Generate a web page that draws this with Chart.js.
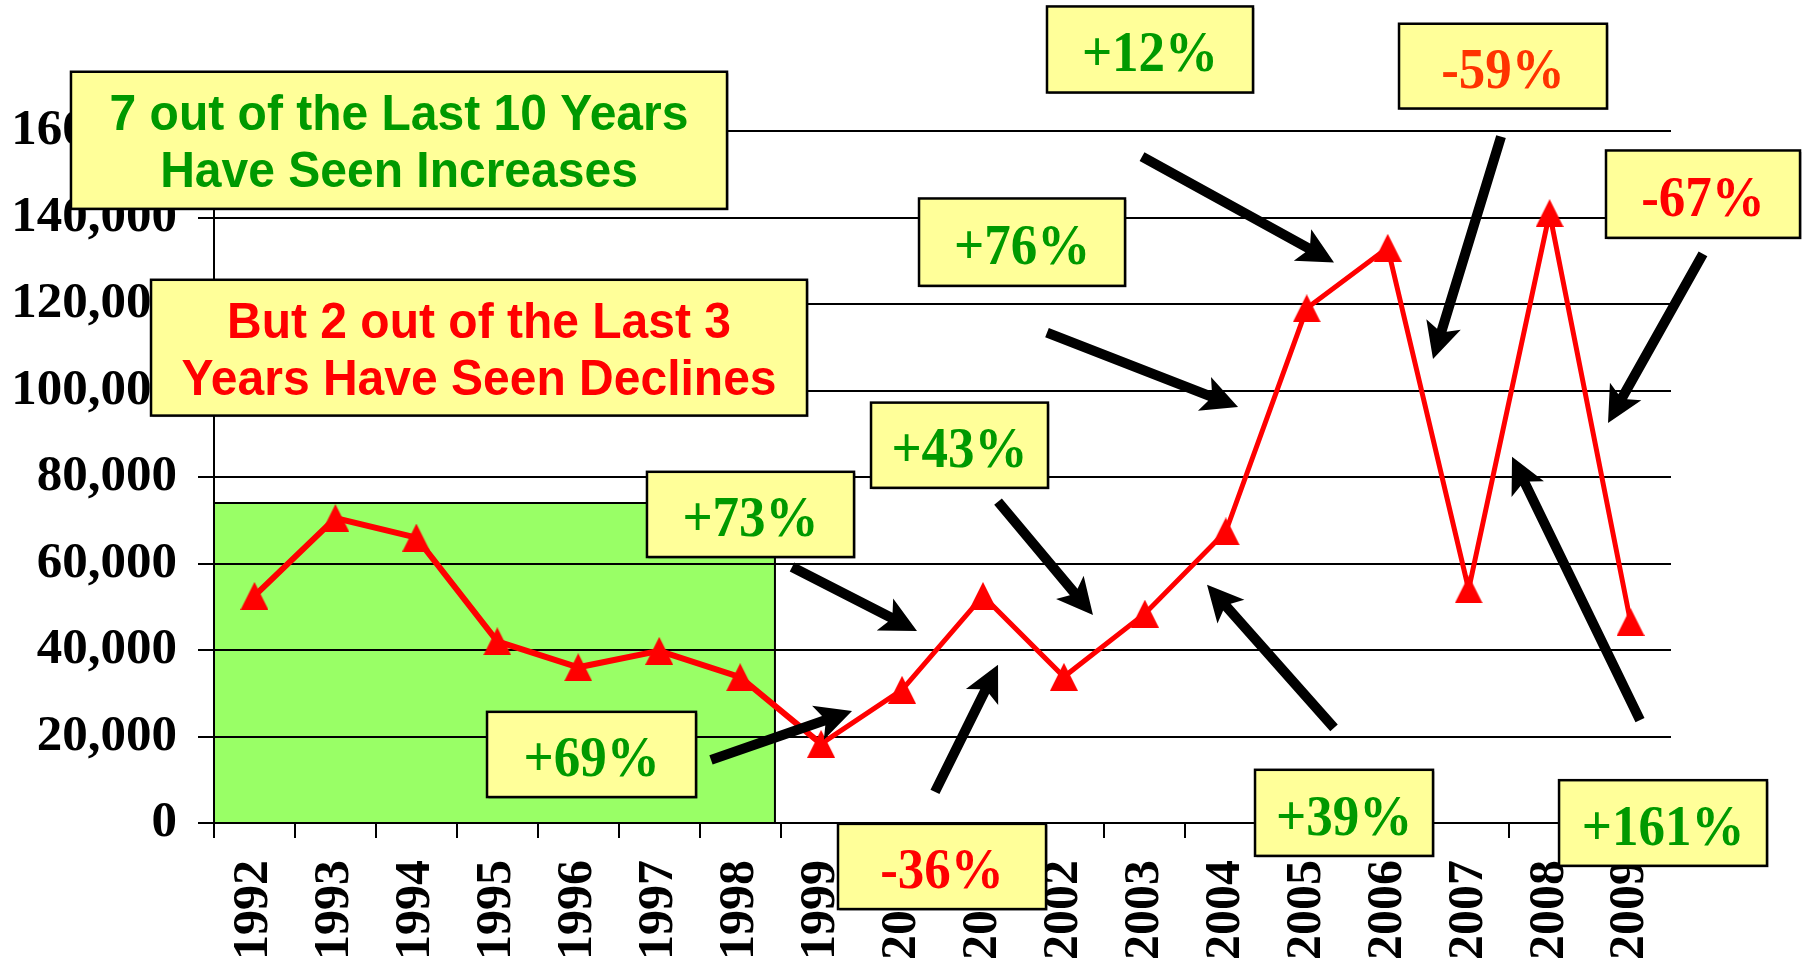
<!DOCTYPE html>
<html>
<head>
<meta charset="utf-8">
<script src="https://cdn.jsdelivr.net/npm/chart.js@4.4.1/dist/chart.umd.min.js"></script>
<style>
html, body { margin:0; padding:0; background:#fff; }
#wrap { width:1805px; height:969px; }
</style>
</head>
<body>
<div id="wrap"><canvas id="chart"></canvas></div>
<script>
//=========================================
// Data
//=========================================
const years = ['1992','1993','1994','1995','1996','1997','1998','1999','2000',
               '2001','2002','2003','2004','2005','2006','2007','2008','2009'];

const values = [52500, 70500, 66000, 42000, 36000, 39800, 33700, 18300, 30800,
                52500, 33800, 48400, 67400, 119000, 133000, 54000, 141000, 46500];

const yMin = 0;
const yMax = 160000;
const yStep = 20000;

const changeLabels = ['+69%', '+73%', '-36%', '+43%', '+39%', '+76%', '+12%', '-59%', '+161%', '-67%'];

const upText = ['7 out of the Last 10 Years', 'Have Seen Increases'];
const downText = ['But 2 out of the Last 3', 'Years Have Seen Declines'];

//=========================================
// Annotation layout (x in category units, y in axis units)
//=========================================
const GREEN = '#009900';
const RED = '#FF0000';
const ORANGE = '#FF3300';

const shade = { x0: -0.5, x1: 6.43, y0: 0, y1: 74000 };

// box: x1, x2, yTop, yBottom ; arrow: tail -> head
const notes = [
    { box: [2.873, 5.455, 25700, 6000],     color: GREEN,  arrow: [5.64, 14600, 7.382, 25900] },
    { box: [4.849, 7.407, 81200, 61500],    color: GREEN,  arrow: [6.641, 59200, 8.185, 44400] },
    { box: [7.209, 9.779, -200, -19900],    color: RED,    arrow: [8.407, 7200, 9.186, 36600] },
    { box: [7.617, 9.803, 97200, 77500],    color: GREEN,  arrow: [9.186, 74300, 10.359, 48100] },
    { box: [12.361, 14.56, 12300, -7600],   color: GREEN,  arrow: [13.337, 22000, 11.768, 55100] },
    { box: [8.21, 10.755, 144400, 124200],  color: GREEN,  arrow: [9.791, 113400, 12.151, 96200] },
    { box: [9.791, 12.336, 188800, 168900], color: GREEN,  arrow: [10.965, 154100, 13.337, 129600] },
    { box: [14.14, 16.709, 184800, 165200], color: ORANGE, arrow: [15.4, 158700, 14.56, 107300] },
    { box: [16.117, 18.686, 9900, -9900],   color: GREEN,  arrow: [17.117, 23800, 15.536, 84700] },
    { box: [16.697, 19.094, 155500, 135300],color: RED,    arrow: [17.895, 131600, 16.722, 92500] }
];

const bigNotes = [
    { box: [-2.267, 5.838, 173700, 142000], color: GREEN, lines: upText },
    { box: [-1.278, 6.826, 125600, 94200],  color: RED,   lines: downText }
];

const SERIF = "'Liberation Serif', 'Times New Roman', serif";
const SANS = "'Liberation Sans', Arial, sans-serif";

//------------------------------------
// Triangle marker
//------------------------------------
function makeTriangle(size, color){
    const c = document.createElement('canvas');
    c.width = size;
    c.height = size;
    const g = c.getContext('2d');
    g.fillStyle = color;
    g.beginPath();
    g.moveTo(size / 2, 0);
    g.lineTo(size, size);
    g.lineTo(0, size);
    g.closePath();
    g.fill();
    return c;
}

//------------------------------------
// Drawing helpers
//------------------------------------
function drawBox(ctx, l, t, r, b){
    ctx.fillStyle = 'rgba(0,0,0,0.35)';
    ctx.fillRect(l + 1.5, t + 1.5, r - l, b - t);
    ctx.fillStyle = '#FFFF99';
    ctx.fillRect(l, t, r - l, b - t);
    ctx.strokeStyle = '#000';
    ctx.lineWidth = 2.5;
    ctx.strokeRect(l, t, r - l, b - t);
}

function drawArrow(ctx, x0, y0, x1, y1){
    const dx = x1 - x0, dy = y1 - y0;
    const len = Math.hypot(dx, dy);
    const ux = dx / len, uy = dy / len;
    const nx = -uy, ny = ux;
    const shaft = 5, headLen = 36, headHalf = 18, notch = 6;
    const bx = x1 - ux * headLen, by = y1 - uy * headLen;
    const jx = bx + ux * notch, jy = by + uy * notch;
    ctx.fillStyle = '#000';
    ctx.beginPath();
    ctx.moveTo(x0 + nx * shaft, y0 + ny * shaft);
    ctx.lineTo(jx + nx * shaft, jy + ny * shaft);
    ctx.lineTo(bx + nx * headHalf, by + ny * headHalf);
    ctx.lineTo(x1, y1);
    ctx.lineTo(bx - nx * headHalf, by - ny * headHalf);
    ctx.lineTo(jx - nx * shaft, jy - ny * shaft);
    ctx.lineTo(x0 - nx * shaft, y0 - ny * shaft);
    ctx.closePath();
    ctx.fill();
}

function tallText(ctx, text, cx, cy, stretch){
    ctx.save();
    ctx.translate(cx, cy);
    ctx.scale(1, stretch);
    ctx.fillText(text, 0, 0);
    ctx.restore();
}

const notesPlugin = {
    id: 'notes',
    beforeDraw(chart){
        const {ctx, scales:{x, y}} = chart;
        const l = x.getPixelForValue(shade.x0), r = x.getPixelForValue(shade.x1);
        const t = y.getPixelForValue(shade.y1), b = y.getPixelForValue(shade.y0);
        ctx.save();
        ctx.fillStyle = '#99FF66';
        ctx.fillRect(l, t, r - l, b - t);
        ctx.strokeStyle = '#000';
        ctx.lineWidth = 2;
        ctx.beginPath();
        ctx.moveTo(l, t);
        ctx.lineTo(r, t);
        ctx.lineTo(r, b);
        ctx.stroke();
        ctx.restore();
    },
    afterDraw(chart){
        const {ctx, scales:{x, y}} = chart;
        ctx.save();

        notes.forEach(n => {
            const a = n.arrow;
            drawArrow(ctx, x.getPixelForValue(a[0]), y.getPixelForValue(a[1]),
                           x.getPixelForValue(a[2]), y.getPixelForValue(a[3]));
        });

        ctx.textAlign = 'center';
        ctx.textBaseline = 'middle';

        notes.forEach((n, i) => {
            const l = x.getPixelForValue(n.box[0]), r = x.getPixelForValue(n.box[1]);
            const t = y.getPixelForValue(n.box[2]), b = y.getPixelForValue(n.box[3]);
            drawBox(ctx, l, t, r, b);
            ctx.fillStyle = n.color;
            ctx.font = 'bold 53px ' + SERIF;
            tallText(ctx, changeLabels[i], (l + r) / 2, (t + b) / 2 + 7, 1.08);
        });

        bigNotes.forEach(n => {
            const l = x.getPixelForValue(n.box[0]), r = x.getPixelForValue(n.box[1]);
            const t = y.getPixelForValue(n.box[2]), b = y.getPixelForValue(n.box[3]);
            drawBox(ctx, l, t, r, b);
            ctx.fillStyle = n.color;
            ctx.font = 'bold 48px ' + SANS;
            const cy = (t + b) / 2;
            tallText(ctx, n.lines[0], (l + r) / 2, cy - 24, 1.05);
            tallText(ctx, n.lines[1], (l + r) / 2, cy + 33, 1.05);
        });

        ctx.restore();
    }
};

//------------------------------------
// Chart
//------------------------------------
window.addEventListener("load", function(){

    new Chart(document.getElementById("chart"), {
        type: "line",
        data: {
            labels: years,
            datasets: [{
                data: values,
                borderColor: RED,
                borderWidth: 5,
                tension: 0,
                pointStyle: makeTriangle(28, RED),
                pointRadius: 14,
                segment: {
                    borderWidth: ctx => ctx.p0DataIndex < 7 ? 6 : 5
                }
            }]
        },
        options: {
            responsive: true,
            maintainAspectRatio: false,
            animation: false,
            layout: { padding: { left: 0, right: 134, top: 131, bottom: 0 } },
            plugins: {
                legend: { display: false },
                tooltip: { enabled: false }
            },
            scales: {
                x: {
                    offset: true,
                    afterFit: s => { s.height = 146; },
                    border: { display: true, color: '#000', width: 2 },
                    grid: {
                        offset: true,
                        drawOnChartArea: false,
                        drawTicks: true,
                        tickLength: 15,
                        color: '#000',
                        lineWidth: 2
                    },
                    ticks: {
                        autoSkip: false,
                        minRotation: 90,
                        maxRotation: 90,
                        padding: 22,
                        color: '#000',
                        font: { family: SERIF, size: 50, weight: 'bold' }
                    }
                },
                y: {
                    min: yMin,
                    max: yMax,
                    afterFit: s => { s.width = 214; },
                    border: { display: true, color: '#000', width: 2 },
                    grid: {
                        color: '#000',
                        lineWidth: 2,
                        drawTicks: true,
                        tickLength: 16
                    },
                    ticks: {
                        stepSize: yStep,
                        padding: 21,
                        color: '#000',
                        font: { family: SERIF, size: 51, weight: 'bold' },
                        callback: v => v.toLocaleString('en-US')
                    }
                }
            }
        },
        plugins: [notesPlugin]
    });

});
</script>
</body>
</html>
